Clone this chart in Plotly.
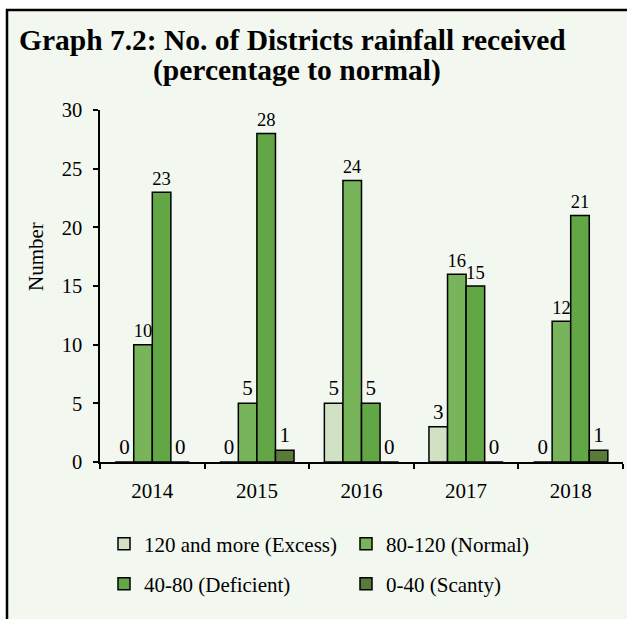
import plotly.graph_objects as go

years = ["2014", "2015", "2016", "2017", "2018"]
excess = [0, 0, 5, 3, 0]
normal = [10, 5, 24, 16, 12]
deficient = [23, 28, 5, 15, 21]
scanty = [0, 1, 0, 0, 1]

series_names = ["120 and more (Excess)", "80-120 (Normal)", "40-80 (Deficient)", "0-40 (Scanty)"]
series_vals = [excess, normal, deficient, scanty]
colors = ["#d1e2c4", "#78b45a", "#62a645", "#5a7a3a"]
legends = ["legend", "legend", "legend2", "legend2"]

FONT = "Liberation Serif"
fig = go.Figure()
for name, vals, col, lg in zip(series_names, series_vals, colors, legends):
    fig.add_trace(go.Bar(
        x=years, y=vals, name=name,
        marker=dict(color=col, line=dict(color="black", width=1.5)),
        text=[str(v) for v in vals], textposition="outside",
        textfont=dict(family=FONT, size=21, color="black"),
        cliponaxis=False, legend=lg,
    ))

W, H = 627, 619
L, R, T, B = 100, 4, 110, 157
pw, ph = W - L - R, H - T - B

def px(x):
    return (x - L) / pw

def py(y):
    return (H - B - y) / ph

fig.update_layout(
    width=W, height=H,
    margin=dict(l=L, r=R, t=T, b=B, pad=0, autoexpand=False),
    paper_bgcolor="white", plot_bgcolor="rgba(0,0,0,0)",
    barmode="group", bargap=0.29, bargroupgap=0,
    font=dict(family=FONT, size=20, color="black"),
    xaxis=dict(showline=True, linecolor="black", linewidth=1.5, ticks="outside",
               tickson="boundaries", ticklen=5, tickcolor="black", tickwidth=1.5,
               ticklabelstandoff=9,
               tickfont=dict(family=FONT, size=21), showgrid=False, zeroline=False),
    yaxis=dict(range=[0, 30], dtick=5, showline=True, linecolor="black", linewidth=1.5,
               ticks="outside", ticklen=5, tickcolor="black", tickwidth=1.5,
               ticklabelstandoff=7,
               tickfont=dict(family=FONT, size=20.5), showgrid=False, zeroline=False),
    legend=dict(orientation="h", x=px(104), y=py(544), xref="paper", yref="paper",
                xanchor="left", yanchor="middle", entrywidth=197, entrywidthmode="pixels",
                font=dict(family=FONT, size=21), bgcolor="rgba(0,0,0,0)"),
    legend2=dict(orientation="h", x=px(104), y=py(584), xref="paper", yref="paper",
                 xanchor="left", yanchor="middle", entrywidth=197, entrywidthmode="pixels",
                 font=dict(family=FONT, size=21), bgcolor="rgba(0,0,0,0)"),
    showlegend=True,
    shapes=[
        dict(type="rect", xref="paper", yref="paper", x0=px(7), x1=px(700), y0=py(10), y1=py(700),
             fillcolor="#f2f7f0", line=dict(color="black", width=2.5), layer="below"),
    ],
    annotations=[
        dict(text="<b>Graph 7.2: No. of Districts rainfall received</b>", xref="paper", yref="paper",
             x=px(292), y=py(40), xanchor="center", yanchor="middle", showarrow=False,
             font=dict(family=FONT, size=29.5, color="black")),
        dict(text="<b>(percentage to normal)</b>", xref="paper", yref="paper",
             x=px(297), y=py(71), xanchor="center", yanchor="middle", showarrow=False,
             font=dict(family=FONT, size=29.5, color="black")),
        dict(text="Number", xref="paper", yref="paper", textangle=-90,
             x=px(36), y=py(257), xanchor="center", yanchor="middle", showarrow=False,
             font=dict(family=FONT, size=21, color="black")),
    ],
)

fig.write_html("out.html", config={"displayModeBar": False},
               post_script="document.body.style.margin='0';")
